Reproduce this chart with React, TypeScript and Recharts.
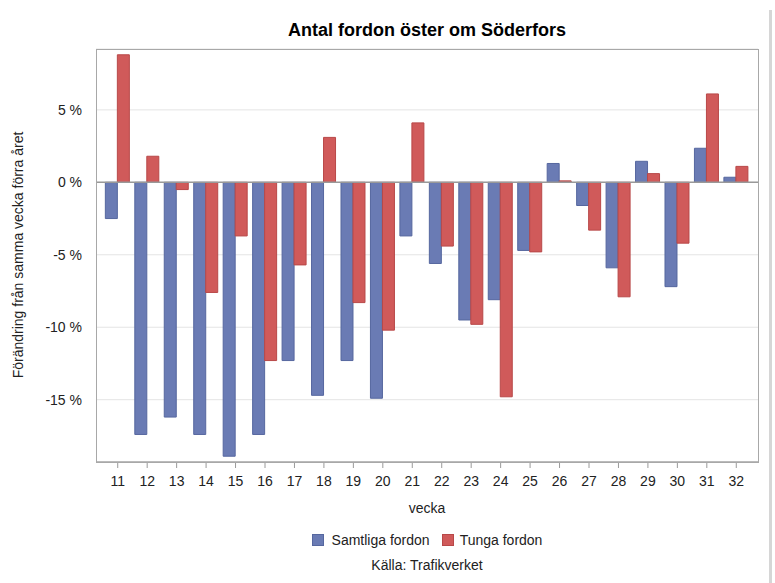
import React from "react";
import { Bar, BarChart, CartesianGrid, ReferenceLine, XAxis, YAxis } from "recharts";

const weeks = ["11", "12", "13", "14", "15", "16", "17", "18", "19", "20", "21", "22", "23", "24", "25", "26", "27", "28", "29", "30", "31", "32"];
const samtliga = [-2.5, -17.4, -16.2, -17.4, -18.9, -17.4, -12.3, -14.7, -12.3, -14.9, -3.7, -5.6, -9.5, -8.1, -4.7, 1.3, -1.6, -5.9, 1.45, -7.2, 2.35, 0.35];
const tunga = [8.8, 1.8, -0.5, -7.6, -3.7, -12.3, -5.7, 3.1, -8.3, -10.2, 4.1, -4.4, -9.8, -14.8, -4.8, 0.1, -3.3, -7.9, 0.6, -4.2, 6.1, 1.1];
const yTicks = [5, 0, -5, -10, -15];

const BLUE = "#6a7bb4";
const RED = "#d05a5a";
const FONT = "'Liberation Sans', Arial, sans-serif";

const data = weeks.map((w, i) => ({ vecka: w, samtliga: samtliga[i], tunga: tunga[i] }));

export default function App(): JSX.Element {
  return (
    <div style={{ position: "absolute", left: 0, top: 0, width: 775, height: 583, background: "#fff", fontFamily: FONT }}>
      <BarChart
        width={775}
        height={583}
        data={data}
        margin={{ top: 49, right: 17, bottom: 92, left: 36 }}
        barCategoryGap="8%"
        barGap={0}
      >
        <CartesianGrid vertical={false} stroke="#e4e4e4" />
        <XAxis
          dataKey="vecka"
          height={29}
          tick={{ fill: "#222", fontSize: 14, fontFamily: FONT }}
          tickLine={{ stroke: "#9a9a9a" }}
          axisLine={{ stroke: "#a8a8a8", strokeWidth: 1.5 }}
          tickSize={6}
          tickMargin={8}
          interval={0}
          padding={{ left: 7, right: 7 }}
        />
        <YAxis
          width={60}
          domain={[-19.3, 9.2]}
          ticks={yTicks}
          allowDataOverflow
          tickFormatter={(v: number) => `${v} %`}
          tick={{ fill: "#222", fontSize: 14, fontFamily: FONT }}
          tickLine={false}
          axisLine={false}
          tickMargin={8}
        />
        <ReferenceLine y={0} stroke="#999" strokeWidth={1.5} />
        <Bar dataKey="samtliga" fill={BLUE} stroke="#56679f" strokeWidth={1} isAnimationActive={false} />
        <Bar dataKey="tunga" fill={RED} stroke="#b84848" strokeWidth={1} isAnimationActive={false} />
      </BarChart>

      {/* plot frame */}
      <div style={{ position: "absolute", left: 96, top: 49, width: 661, height: 412, border: "1px solid #a8a8a8", pointerEvents: "none" }} />

      {/* title */}
      <div style={{ position: "absolute", top: 20, left: 96, width: 662, textAlign: "center", fontSize: 18, fontWeight: "bold", color: "#000" }}>
        Antal fordon öster om Söderfors
      </div>

      {/* y label */}
      <div
        style={{
          position: "absolute",
          left: 18,
          top: 255,
          transform: "translate(-50%, -50%) rotate(-90deg)",
          whiteSpace: "nowrap",
          fontSize: 14,
          color: "#222"
        }}
      >
        Förändring från samma vecka förra året
      </div>

      <div style={{ position: "absolute", top: 500, left: 96, width: 662, textAlign: "center", fontSize: 14, color: "#222" }}>vecka</div>

      {/* legend */}
      <div style={{ position: "absolute", top: 532, left: 96, width: 662, display: "flex", justifyContent: "center", alignItems: "center", fontSize: 14, color: "#222" }}>
        <span style={{ display: "inline-block", width: 10, height: 10, background: BLUE, border: "1px solid #56679f", marginRight: 8 }} />
        <span style={{ marginRight: 12 }}>Samtliga fordon</span>
        <span style={{ display: "inline-block", width: 10, height: 10, background: RED, border: "1px solid #b84848", marginRight: 6 }} />
        <span>Tunga fordon</span>
      </div>
      <div style={{ position: "absolute", top: 557, left: 96, width: 662, textAlign: "center", fontSize: 14, color: "#222" }}>Källa: Trafikverket</div>

      {/* right edge strip */}
      <div style={{ position: "absolute", top: 10, left: 769, width: 3, height: 573, background: "#d6d6d6" }} />
    </div>
  );
}
